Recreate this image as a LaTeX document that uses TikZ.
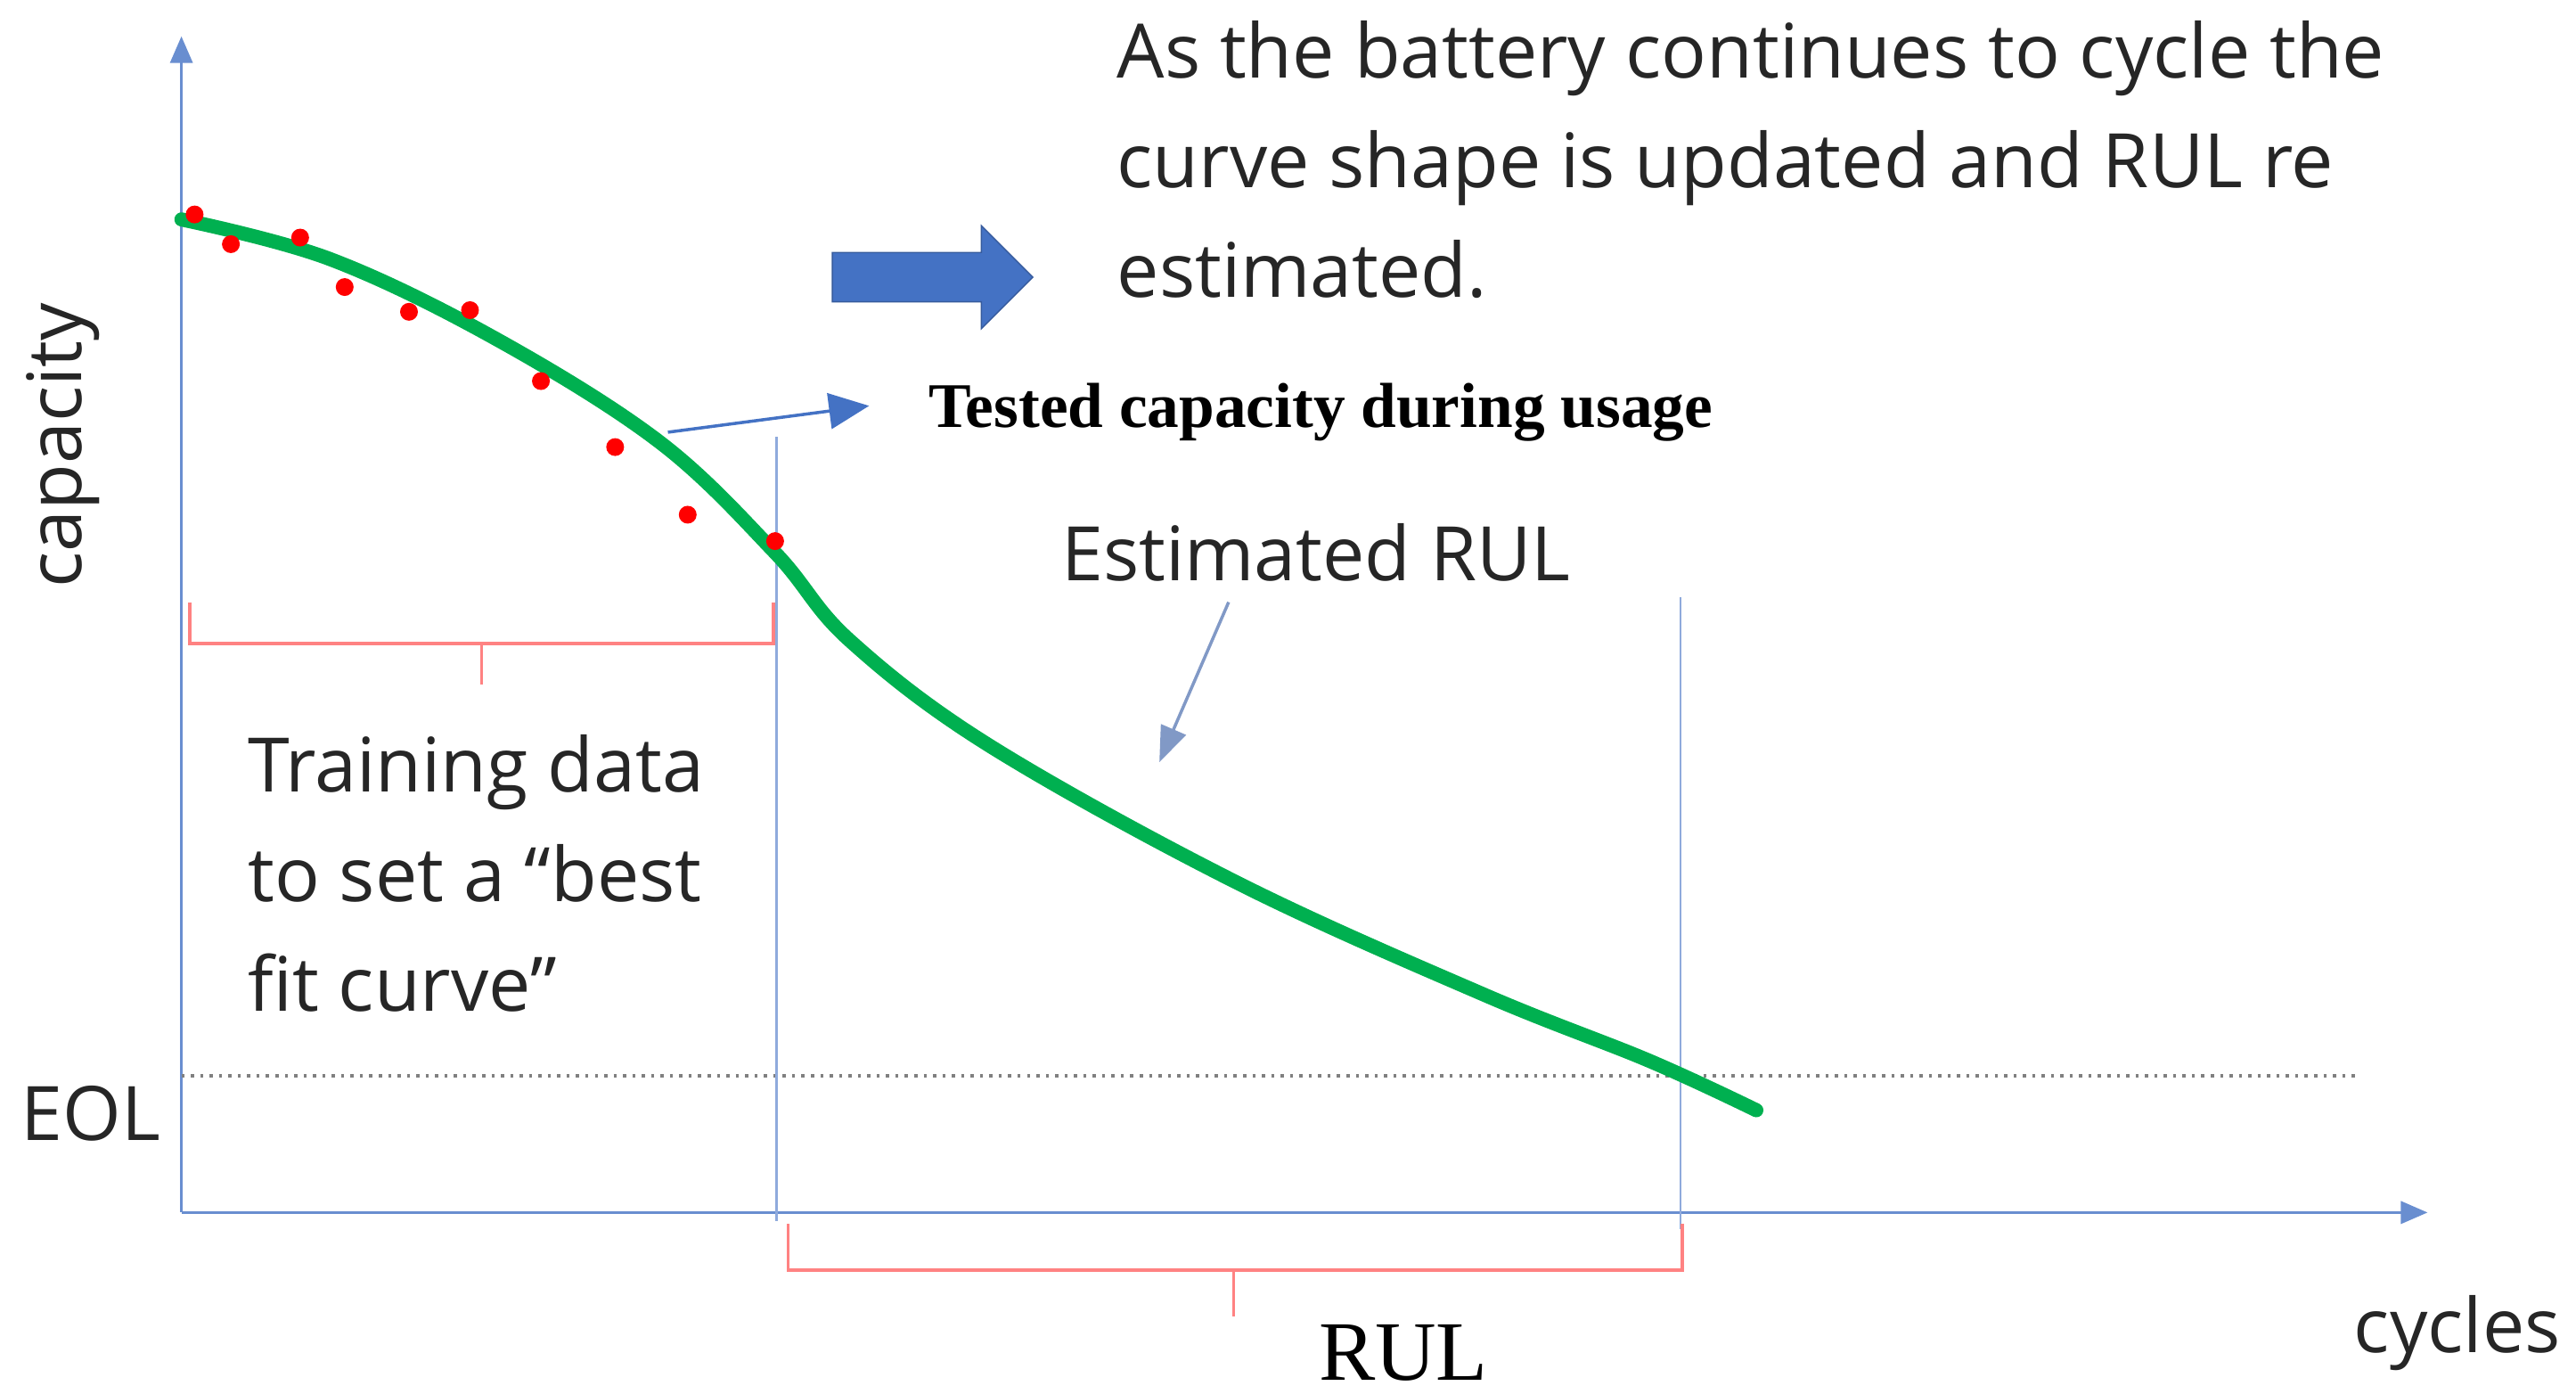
\documentclass[tikz,border=0pt]{standalone}
\usepackage{fontspec}
\setmainfont{Open Sans}
\newfontfamily\serifb{Liberation Serif}
\usetikzlibrary{arrows.meta,shapes.arrows}
\definecolor{axblue}{RGB}{68,114,196}
\definecolor{lineblue}{RGB}{143,170,220}
\definecolor{brred}{RGB}{255,130,130}
\definecolor{cgreen}{RGB}{0,176,80}
\tikzset{
  txt/.style={font=\fontsize{24}{35}\selectfont, text=black!85, inner sep=0pt},
  dot/.style={circle, fill=red, inner sep=0pt, minimum size=0.2cm},
  vline/.style={lineblue, line width=0.8pt},
  brace/.style={brred, line width=1pt},
  thinarrow/.style={axblue, line width=1pt, -{Triangle[length=0.45cm,width=0.4cm]}},
}
\begin{document}
\begin{tikzpicture}[x=0.01851cm,y=-0.01851cm]
\useasboundingbox (0,0) rectangle (1562,845);
% axes
\coordinate (o) at (110,735);
\coordinate (ytop) at (110,22);
\coordinate (xend) at (1472,735);
\draw[axblue!80, line width=1pt, -{Triangle[length=0.3cm,width=0.25cm]}] (o) -- (ytop);
\draw[axblue!80, line width=1pt, -{Triangle[length=0.3cm,width=0.25cm]}] (o) -- (xend);
\node[txt, rotate=90] (cap) at (38,270) {capacity};
\node[txt] (eol) at (55,675) {EOL};
\node[txt] (cyc) at (1490,808) {cycles};
% EOL dotted
\coordinate (e1) at (110,652); \coordinate (e2) at (1430,652);
\draw[gray, dotted, line width=1pt] (e1) -- (e2);
% vertical lines
\coordinate (v1a) at (471,265); \coordinate (v1b) at (471,740);
\coordinate (v2a) at (1019,362); \coordinate (v2b) at (1019,745);
\draw[vline] (v1a) -- (v1b);
\draw[vline] (v2a) -- (v2b);
% green curve
\draw[cgreen, line width=4.5pt, line cap=round] plot[smooth, tension=0.6] coordinates {(110,133) (200,157) (300,205) (400,268) (470,335) (515,388) (600,452) (750,535) (900,603) (1000,643) (1065,673)};
% dots
\foreach \p in {(118,130),(140,148),(182,144),(209,174),(248,189),(285,188),(328,231),(373,271),(417,312),(470,328)}
  \node[dot] at \p {};
% braces
\draw[brace] (115,365) -- (115,390) -- (469,390) -- (469,365);
\draw[brace] (292,390) -- (292,415);
\draw[brace] (478,742) -- (478,770) -- (1020,770) -- (1020,742);
\draw[brace] (748,770) -- (748,798);
% block arrow
\node[single arrow, fill=axblue, draw=axblue!80!black, minimum height=2.25cm, inner sep=0.27cm, single arrow head extend=0.3cm, single arrow head indent=0cm] (blk) at (558,168) {};
% tested
\node[font=\serifb\bfseries\fontsize{20.3}{24}\selectfont, inner sep=0pt, anchor=west] (tested) at (563,250) {Tested capacity during usage};
\coordinate (ta) at (405,262);
\draw[thinarrow] (ta) -- (527,246);
% top text
\node[txt, align=left, anchor=north west] (top) at (677,12) {As the battery continues to cycle the\\curve shape is updated and RUL re\\estimated.};
\node[txt] (est) at (798,335) {Estimated RUL};
\coordinate (ea) at (745,365); \coordinate (eb) at (703,462);
\draw[lineblue!90!black, line width=1pt, -{Triangle[length=0.4cm,width=0.3cm]}] (ea) -- (eb);
\node[txt, align=left, anchor=north west] (train) at (150,445) {Training data\\to set a “best\\fit curve”};
\node[font=\serifb\fontsize{27}{30}\selectfont, inner sep=0pt] (rul) at (851,820) {RUL};
\end{tikzpicture}
\end{document}
